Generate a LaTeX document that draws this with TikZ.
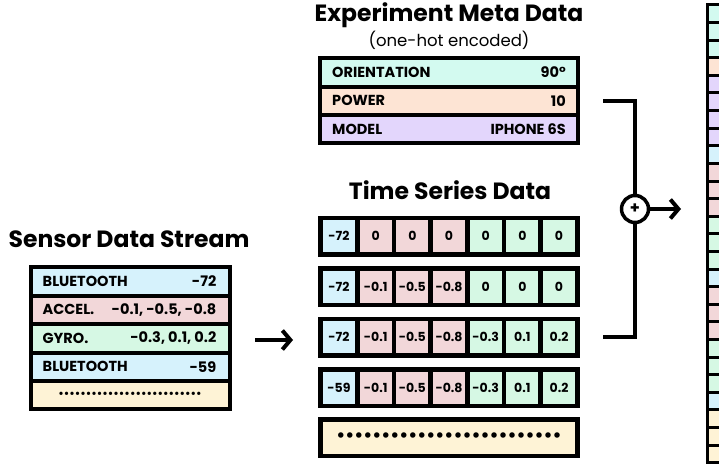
\documentclass[tikz,border=0pt]{standalone}
\usepackage{fontspec}
\setmainfont{Poppins}
\usetikzlibrary{arrows.meta}

\definecolor{cmint}{HTML}{D3FAF0}
\definecolor{cpeach}{HTML}{FDE4D4}
\definecolor{cviolet}{HTML}{E3D6FC}
\definecolor{cblue}{HTML}{D6F2FC}
\definecolor{cpink}{HTML}{F2D7D9}
\definecolor{cgreen}{HTML}{D6F8E4}
\definecolor{ccream}{HTML}{FEF3D6}

% a row of bullets with extra spacing
\newcommand\bulletrow[2]{\foreach \k in {1,...,#1}{\kern#2•\kern#2}}

\begin{document}
\begin{tikzpicture}[x=1pt,y=-1pt,
	box/.style={draw=black,line width=4pt,inner sep=0pt,minimum height=28.4pt},
	tcell/.style={draw=black,line width=4.5pt,inner sep=0pt,minimum width=36.67pt,minimum height=36.5pt,
		font=\fontsize{12.5}{13}\selectfont\bfseries},
	vcell/.style={draw=black,line width=3pt,inner sep=0pt,minimum width=30pt,minimum height=17.6pt},
	txt/.style={inner sep=0pt,font=\fontsize{14.5}{16}\selectfont\bfseries},
	ttl/.style={inner sep=0pt,font=\fontsize{23.5}{26}\selectfont\bfseries},
	arr/.style={line width=4pt,-{Straight Barb[length=8pt,width=19pt]}}]
	\useasboundingbox (0,0) rectangle (719,465);
	% titles
	\node[ttl] (t-meta) at (449,15) {Experiment Meta Data};
	\node[inner sep=0pt,font=\fontsize{16.5}{18}\selectfont] (t-hot) at (449,40) {(one-hot encoded)};
	\node[ttl] (t-ts) at (450,190) {Time Series Data};
	\node[ttl] (t-sens) at (129,239) {Sensor Data Stream};
	% meta data
	\foreach \nm/\y/\col/\lab/\val in {ori/72.5/cmint/ORIENTATION/90°,pow/100.8/cpeach/POWER/10,mod/129.1/cviolet/MODEL/IPHONE 6S} {
		\node[box,fill=\col,minimum width=258pt] (\nm) at (449,\y) {};
		\node[txt,anchor=west] (\nm-l) at ([xshift=14pt]\nm.west) {\lab};
		\node[txt,anchor=east] (\nm-r) at ([xshift=-14pt]\nm.east) {\val};
	}
	% sensor stream
	\foreach \nm/\y/\col/\lab/\val in {s1/281.5/cblue/BLUETOOTH/-72,s2/309.9/cpink/ACCEL./{-0.1, -0.5, -0.8},s3/338.3/cgreen/GYRO./{-0.3, 0.1, 0.2},s4/366.7/cblue/BLUETOOTH/-59} {
		\node[box,fill=\col,minimum width=199pt] (\nm) at (130,\y) {};
		\node[txt,anchor=west] (\nm-l) at ([xshift=14pt]\nm.west) {\lab};
		\node[txt,anchor=east] (\nm-r) at ([xshift=-15pt]\nm.east) {\val};
	}
	\node[box,fill=ccream,minimum width=199pt,font=\fontsize{11}{12}\selectfont\bfseries] (s5) at (130,395.1)
		{\bulletrow{26}{0pt}};
	% time series
	\foreach \r/\y/\vals in {1/236/{-72,0,0,0,0,0,0},2/286.5/{-72,-0.1,-0.5,-0.8,0,0,0},
		3/337/{-72,-0.1,-0.5,-0.8,-0.3,0.1,0.2},4/387.5/{-59,-0.1,-0.5,-0.8,-0.3,0.1,0.2}} {
		\foreach \v [count=\c] in \vals {
			\ifcase\c\or\def\col{cblue}\or\def\col{cpink}\or\def\col{cpink}\or\def\col{cpink}\else\def\col{cgreen}\fi
			\node[tcell,fill=\col] (ts\r-\c) at ({339+36.67*(\c-1)},\y) {\v};
		}
	}
	\node[tcell,fill=ccream,minimum width=256.7pt,font=\fontsize{18}{18}\selectfont\bfseries] (ts5) at (449,437.5)
		{\bulletrow{25}{0pt}};
	% input arrow
	\coordinate (in-a) at (255,340);
	\coordinate (in-b) at (293,340);
	\draw[arr] (in-a) -- (in-b);
	% concatenation
	\coordinate (b-top) at (603,100.8);
	\coordinate (b-bot) at (603,337);
	\node[circle,draw=black,line width=3.5pt,minimum size=27pt,inner sep=0pt,
		font=\fontsize{16}{16}\selectfont\bfseries] (plus) at (635,209) {+};
	\draw[line width=4pt] (b-top) -| (plus.north);
	\draw[line width=4pt] (b-bot) -| (plus.south);
	\coordinate (out) at (681,209);
	\draw[arr] (plus.east) -- (out);
	% feature vector
	\begin{scope}
		\clip (0,0) rectangle (719,465);
		\foreach \col [count=\i] in {cmint,cmint,cmint,cpeach,cviolet,cviolet,cviolet,cviolet,cblue,
			cpink,cpink,cpink,cgreen,cgreen,cgreen,cblue,cpink,cpink,cpink,cgreen,cgreen,cgreen,cblue,
			ccream,ccream,ccream}
			\node[vcell,fill=\col] (v\i) at (722,{5+17.6*(\i-0.5)}) {};
	\end{scope}
\end{tikzpicture}
\end{document}
